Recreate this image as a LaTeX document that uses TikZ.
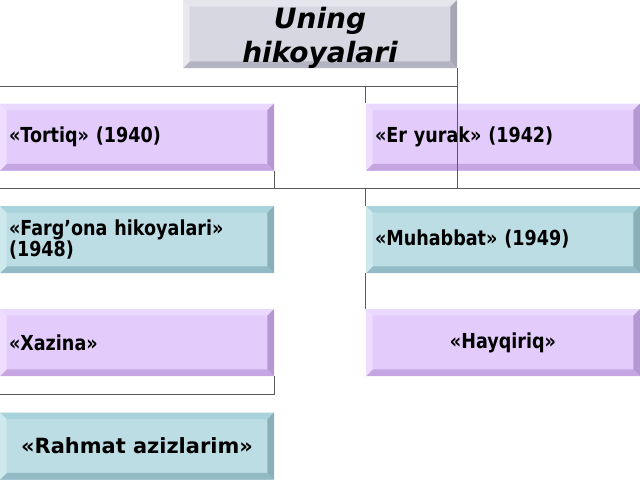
\documentclass[tikz,border=0pt]{standalone}
\usepackage{fontspec}
\setmainfont{DejaVu Sans}
\newfontfamily\condfont{DejaVu Sans}[FakeStretch=0.85]
\usetikzlibrary{positioning, calc}

\definecolor{pface}{HTML}{E3CCFC}
\definecolor{ptop}{HTML}{EAD8FF}
\definecolor{pright}{HTML}{B597D4}
\definecolor{pbottom}{HTML}{C6A5E3}
\definecolor{pleft}{HTML}{EEDDFF}
\definecolor{bface}{HTML}{BCDDE4}
\definecolor{btop}{HTML}{A9D3DC}
\definecolor{bright}{HTML}{89AFB9}
\definecolor{bbottom}{HTML}{93BBC5}
\definecolor{bleft}{HTML}{CDE9EE}
\definecolor{gface}{HTML}{D7D7E1}
\definecolor{gtop}{HTML}{E5E5EC}
\definecolor{gright}{HTML}{A6A6B4}
\definecolor{gbottom}{HTML}{B3B3C1}
\definecolor{gleft}{HTML}{E9E9EF}
\definecolor{connc}{HTML}{5A5A5A}

\newcommand{\lowline}[1]{\raisebox{-3pt}[\height][\depth]{#1}}

\begin{document}
\begin{tikzpicture}[x=0.75pt, y=-0.75pt,
bevel/.style n args={5}{fill=#1, inner sep=0pt, minimum width=205.5pt,
  minimum height=50.25pt, path picture={
  \coordinate (nw) at (path picture bounding box.north west);
  \coordinate (ne) at (path picture bounding box.north east);
  \coordinate (se) at (path picture bounding box.south east);
  \coordinate (sw) at (path picture bounding box.south west);
  \fill[#2] (nw) -- (ne) -- ([shift={(-5pt,-5pt)}]ne) -- ([shift={(5pt,-5pt)}]nw) -- cycle;
  \fill[#3] (ne) -- (se) -- ([shift={(-5pt,5pt)}]se) -- ([shift={(-5pt,-5pt)}]ne) -- cycle;
  \fill[#4] (se) -- (sw) -- ([shift={(5pt,5pt)}]sw) -- ([shift={(-5pt,5pt)}]se) -- cycle;
  \fill[#5] (sw) -- (nw) -- ([shift={(5pt,-5pt)}]nw) -- ([shift={(5pt,5pt)}]sw) -- cycle;
}},
pbox/.style={bevel={pface}{ptop}{pright}{pbottom}{pleft}},
bbox/.style={bevel={bface}{btop}{bright}{bbottom}{bleft}},
gbox/.style={bevel={gface}{gtop}{gright}{gbottom}{gleft}},
lefttext/.style={text width=192pt, inner xsep=6.75pt, align=left,
  font=\condfont\bfseries\fontsize{15.5}{16}\selectfont},
conn/.style={draw=connc, line width=0.75pt}]

\useasboundingbox (0,0) rectangle (640,480);

%boxes
\path
	node[gbox, minimum height=51pt, align=center,
	  font=\bfseries\itshape\fontsize{21}{26}\selectfont] (top) at (320,34) {\lowline{Uning}\\\lowline{hikoyalari}}
	node[pbox, lefttext] (tortiq) at (137,137) {«Tortiq» (1940)}
	node[pbox, lefttext] (eryurak) at (503,137) {«Er yurak» (1942)}
	node[bbox, lefttext] (farg) at (137,239.5) {«Farg’ona hikoyalari»\\(1948)}
	node[bbox, lefttext] (muhabbat) at (503,239.5) {«Muhabbat» (1949)}
	node[pbox, lefttext] (xazina) at (137,342.5) {«Xazina»}
	node[pbox, lefttext, align=center] (hayqiriq) at (503,342.5) {«Hayqiriq»}
	node[bbox, align=center, font=\bfseries\fontsize{15.7}{18}\selectfont] (rahmat) at (137,446) {«Rahmat azizlarim»};

%bus lines
\coordinate (busA) at (0,86);
\coordinate (busB) at (0,188);
\coordinate (busC) at (0,394);

%connectors
\draw[conn] (tortiq.north west) -- (tortiq.north west |- busA) -| (top.south east);
\draw[conn] (eryurak.north west) -- (eryurak.north west |- busA);
\draw[conn] (top.south east) -- (top.south east |- busB);
\draw[conn] (tortiq.south east) -- (tortiq.south east |- busB);
\draw[conn] (eryurak.south east) -- (eryurak.south east |- busB);
\draw[conn] (farg.north west) -- (farg.north west |- busB) -- (eryurak.south east |- busB);
\draw[conn] (muhabbat.north west) -- (muhabbat.north west |- busB);
\draw[conn] (farg.south west) -- (xazina.north west);
\draw[conn] (muhabbat.south west) -- (hayqiriq.north west);
\draw[conn] (xazina.south east) -- (xazina.south east |- busC) -| (rahmat.north west);
\end{tikzpicture}
\end{document}
